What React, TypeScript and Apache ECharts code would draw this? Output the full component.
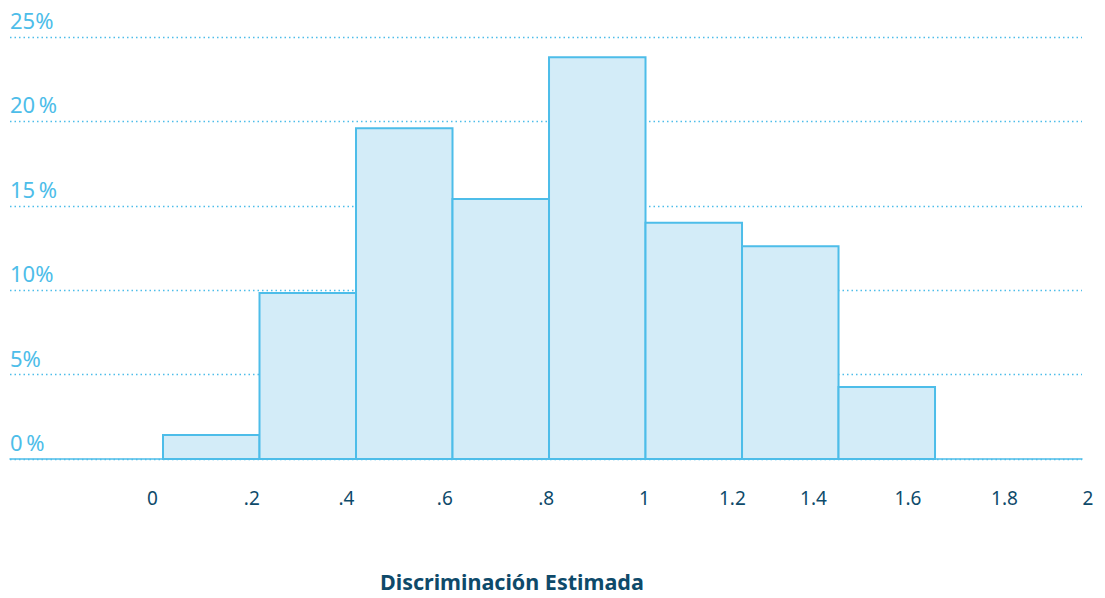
import React, { useEffect, useRef } from "react";
import * as echarts from "echarts";

// Histogram bins (bin index) and their share in percent
const binIndex = [0, 1, 2, 3, 4, 5, 6, 7];
const binValues = [1.42, 9.83, 19.6, 15.4, 23.8, 14.0, 12.6, 4.27];

// Y tick labels (as printed)
const yTickValues = [0, 5, 10, 15, 20, 25];
const yTickLabels = ["0\u2009%", "5%", "10%", "15\u2009%", "20\u2009%", "25%"];

// X tick labels and where they sit on the bin-index scale
const xTickLabels = ["0", ".2", ".4", ".6", ".8", "1", "1.2", "1.4", "1.6", "1.8", "2"];
const xTickPositions = [-0.11, 0.92, 1.9, 2.92, 3.97, 4.99, 5.9, 6.74, 7.72, 8.72, 9.523];

const xAxisTitle = "Discriminación Estimada";

const LIGHT = "#4dbde9";
const FILL = "#d3ecf8";
const DARK = "#0e4a6a";

export default function App() {
  const ref = useRef<HTMLDivElement>(null);
  useEffect(() => {
    document.body.style.margin = "0";
    const chart = echarts.init(ref.current!, undefined, { renderer: "svg" });
    chart.setOption({
      animation: false,
      backgroundColor: "#ffffff",
      grid: { left: 10, right: 23, top: 37, bottom: 139, containLabel: false },
      xAxis: {
        type: "value",
        min: -1.5855,
        max: 9.523,
        splitLine: { show: false },
        axisTick: { show: false },
        axisLine: { show: true, lineStyle: { color: LIGHT, width: 1.5 } },
        axisLabel: {
          customValues: xTickPositions,
          margin: 29,
          color: DARK,
          fontSize: 19,
          fontFamily: "Noto Sans",
          formatter: (v: number) => {
            let idx = 0;
            let best = Infinity;
            xTickPositions.forEach((p, i) => {
              const d = Math.abs(p - v);
              if (d < best) {
                best = d;
                idx = i;
              }
            });
            return idx === xTickLabels.length - 1 ? "{r|" + xTickLabels[idx] + "}" : xTickLabels[idx];
          },
          rich: {
            r: { color: DARK, fontSize: 19, fontFamily: "Noto Sans", padding: [0, 0, 0, 12] },
          },
        },
      },
      yAxis: {
        type: "value",
        min: 0,
        max: 25,
        interval: 5,
        axisLine: { show: false },
        axisTick: { show: false },
        splitLine: {
          show: true,
          lineStyle: { color: LIGHT, width: 1.3, type: [1.5, 3] },
        },
        axisLabel: {
          inside: true,
          margin: 0,
          align: "left",
          verticalAlign: "bottom",
          padding: [0, 0, 6, 0],
          color: LIGHT,
          fontSize: 22,
          fontFamily: "Noto Sans",
          formatter: (v: number) => {
            const i = yTickValues.indexOf(v);
            return i >= 0 ? yTickLabels[i] : "";
          },
        },
      },
      series: [
        {
          type: "custom",
          data: binIndex.map((b, i) => [b, binValues[i]]),
          encode: { x: 0, y: 1 },
          renderItem: (params: any, api: any) => {
            const b = api.value(0);
            const v = api.value(1);
            const p0 = api.coord([b, v]);
            const p1 = api.coord([b + 1, 0]);
            return {
              type: "rect",
              shape: { x: p0[0], y: p0[1], width: p1[0] - p0[0], height: p1[1] - p0[1] },
              style: { fill: FILL, stroke: LIGHT, lineWidth: 2 },
            };
          },
          z: 3,
        },
      ],
      graphic: [
        {
          type: "text",
          left: 380,
          top: 570,
          style: {
            text: xAxisTitle,
            fill: DARK,
            font: "bold 21.5px 'Noto Sans'",
          },
        },
      ],
    });
    return () => chart.dispose();
  }, []);
  return (
    <div
      ref={ref}
      style={{ position: "fixed", left: 0, top: 0, width: 1105, height: 598 }}
    />
  );
}
